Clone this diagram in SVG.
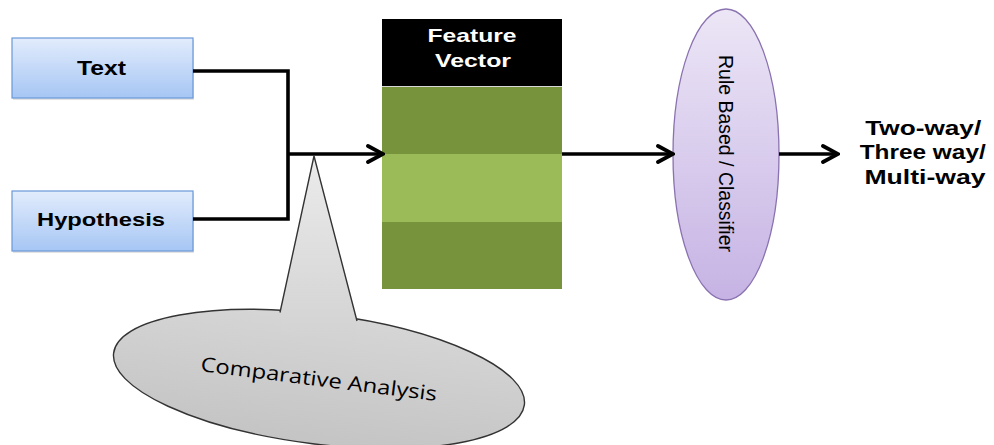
<svg xmlns="http://www.w3.org/2000/svg" width="994" height="445" viewBox="0 0 994 445">
  <style>
    .lbl { font-family: "Liberation Sans", Arial, sans-serif; font-weight: bold; fill: #000; }
    .wire { fill: none; stroke: #000; stroke-width: 3.6; stroke-linejoin: miter; }
    .box { stroke: #6a98d8; stroke-width: 1.2; fill: url(#boxFill); }
    .band-dark { fill: #77933c; }
    .band-light { fill: #9bbb59; }
  </style>
  <defs>
    <linearGradient id="boxFill" x1="0" y1="0" x2="0" y2="1">
      <stop offset="0" stop-color="#e2ecfc"/>
      <stop offset="1" stop-color="#a6c6f4"/>
    </linearGradient>
    <linearGradient id="ovalFill" x1="0" y1="0" x2="0" y2="1">
      <stop offset="0" stop-color="#ece6f6"/>
      <stop offset="1" stop-color="#c6b3e4"/>
    </linearGradient>
    <linearGradient id="calloutFill" gradientUnits="userSpaceOnUse" x1="0" y1="150" x2="0" y2="445">
      <stop offset="0" stop-color="#ececec"/>
      <stop offset="1" stop-color="#c4c4c4"/>
    </linearGradient>
    <marker id="head" viewBox="0 0 20 20" refX="18" refY="10" markerWidth="20" markerHeight="20" markerUnits="userSpaceOnUse" orient="auto">
      <path d="M3,2 L18,10 L3,18" fill="none" stroke="#000" stroke-width="3.8" stroke-linecap="round" stroke-linejoin="miter"/>
    </marker>
  </defs>

  <!-- input boxes -->
  <g id="text-node">
    <rect x="13" y="40" width="181" height="60" fill="#c8c8c8" opacity="0.5"/>
    <rect class="box" x="12" y="38" width="181" height="60"/>
    <text class="lbl" x="101.5" y="75" font-size="20" text-anchor="middle" textLength="49" lengthAdjust="spacingAndGlyphs">Text</text>
  </g>
  <g id="hypothesis-node">
    <rect x="13" y="193" width="181" height="60" fill="#c8c8c8" opacity="0.5"/>
    <rect class="box" x="12" y="191" width="181" height="60"/>
    <text class="lbl" x="101" y="226" font-size="19" text-anchor="middle" textLength="128" lengthAdjust="spacingAndGlyphs">Hypothesis</text>
  </g>

  <!-- feature vector stack -->
  <g id="feature-vector">
    <rect x="382" y="19" width="180" height="67" fill="#000"/>
    <rect x="382" y="86" width="180" height="1" fill="#d8d8d8"/>
    <rect class="band-dark" x="382" y="87" width="180" height="67"/>
    <rect class="band-light" x="382" y="154" width="180" height="68"/>
    <rect class="band-dark" x="382" y="222" width="180" height="67"/>
    <text class="lbl" x="472" y="42" font-size="19" text-anchor="middle" style="fill:#fff" textLength="89" lengthAdjust="spacingAndGlyphs">Feature</text>
    <text class="lbl" x="473" y="67" font-size="19" text-anchor="middle" style="fill:#fff" textLength="76" lengthAdjust="spacingAndGlyphs">Vector</text>
  </g>

  <!-- classifier oval -->
  <g id="classifier">
    <ellipse cx="726" cy="154.5" rx="53" ry="145.5" fill="url(#ovalFill)" stroke="#8a72b0" stroke-width="1.3"/>
    <text x="0" y="0" transform="translate(719,153.5) rotate(90)" font-family="'Liberation Sans', Arial, sans-serif" font-size="20" text-anchor="middle" fill="#000" textLength="197" lengthAdjust="spacingAndGlyphs">Rule Based / Classifier</text>
  </g>

  <!-- output label -->
  <g id="output">
    <text class="lbl" font-size="20" text-anchor="middle">
      <tspan x="926" y="135" textLength="116" lengthAdjust="spacingAndGlyphs">Two-way/</tspan>
      <tspan x="925.5" y="159" textLength="126" lengthAdjust="spacingAndGlyphs">Three way/</tspan>
      <tspan x="925" y="184" textLength="121" lengthAdjust="spacingAndGlyphs">Multi-way</tspan>
    </text>
  </g>

  <!-- callout -->
  <g id="comparative-analysis">
    <ellipse cx="319" cy="379" rx="207" ry="65" transform="rotate(7.2 319 379)" fill="url(#calloutFill)" stroke="#333" stroke-width="1.4"/>
    <polygon points="314,156 280,312 282,335 356,340 357,321" fill="url(#calloutFill)"/>
    <polyline points="280,312.5 314,156 357,321" fill="none" stroke="#333" stroke-width="1.4" stroke-linejoin="miter"/>
    <text x="0" y="0" transform="translate(318,386) rotate(7.2)" font-family="'Open Sans', 'Liberation Sans', sans-serif" font-size="20" text-anchor="middle" fill="#000" textLength="238" lengthAdjust="spacingAndGlyphs">Comparative Analysis</text>
  </g>

  <!-- connectors -->
  <g id="connectors">
    <polyline class="wire" points="193,71 288,71 288,219 193,219"/>
    <line class="wire" x1="288" y1="154" x2="383" y2="154" marker-end="url(#head)"/>
    <line class="wire" x1="562" y1="154" x2="673" y2="154" marker-end="url(#head)"/>
    <line class="wire" x1="779" y1="154" x2="838" y2="154" marker-end="url(#head)"/>
  </g>
</svg>
